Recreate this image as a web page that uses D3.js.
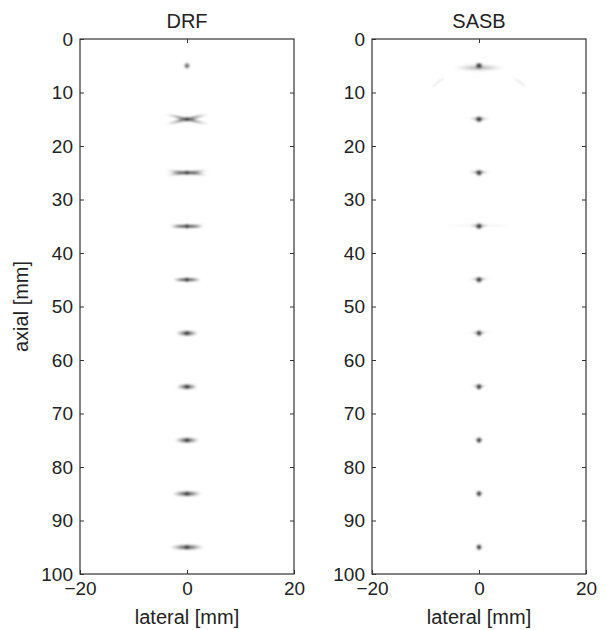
<!DOCTYPE html>
<html><head><meta charset="utf-8">
<script src="https://cdn.jsdelivr.net/npm/d3@7/dist/d3.min.js"></script>
<style>body{margin:0;background:#fff}svg{display:block}text{font-family:"Liberation Sans",Arial,sans-serif;fill:#222}</style>
</head><body><svg id="c" width="606" height="630"></svg>
<script>
// ---- data ----
const panels = ["DRF", "SASB"];
const depths = [5, 15, 25, 35, 45, 55, 65, 75, 85, 95];           // axial mm
const drfHalfWidth = [0.5, 4.3, 4.1, 3.4, 2.7, 2.2, 2.1, 2.4, 2.9, 3.3]; // lateral mm
const drfSpread = [0, 1.0, 0.45, 0.2, 0.1, 0, 0, 0, 0, 0];          // X-shape opening mm
const sasbCore = [0.75, 0.75, 0.7, 0.7, 0.65, 0.6, 0.6, 0.55, 0.55, 0.55];
const sasbLobe = [5.0, 2.0, 2.0, 2.0, 1.6, 1.5, 1.3, 1.0, 0.8, 0.7];
const sasbFarLobe = [0, 0, 0, 7.0, 3.0, 2.5, 2.3, 0, 0, 0];
const sasbArcLeft = [[-8.6, 8.9], [-7.8, 8.1], [-6.6, 7.4]];
const sasbArcRight = [[6.6, 7.4], [7.8, 8.1], [8.6, 8.9]];
const xTicks = [-20, 0, 20];
const yTicks = [0, 10, 20, 30, 40, 50, 60, 70, 80, 90, 100];
const xDomain = [-20, 20], yDomain = [0, 100];

const svg = d3.select("#c");
const defs = svg.append("defs");
function radial(id, stops) {
  const g = defs.append("radialGradient").attr("id", id);
  stops.forEach(s => g.append("stop").attr("offset", s[0]).attr("stop-color", s[1]).attr("stop-opacity", s[2]));
}
radial("core", [["0%", "#1a1a1a", 1], ["50%", "#333", 0.85], ["100%", "#777", 0]]);
radial("dcore", [["0%", "#333", 0.95], ["50%", "#555", 0.75], ["100%", "#888", 0]]);
radial("spot", [["0%", "#2a2a2a", 0.95], ["30%", "#444", 0.8], ["65%", "#777", 0.45], ["100%", "#aaa", 0]]);
radial("lobe", [["0%", "#333", 0.85], ["50%", "#555", 0.6], ["100%", "#999", 0]]);
radial("slobe", [["0%", "#555", 0.85], ["50%", "#777", 0.6], ["100%", "#aaa", 0]]);
radial("faint", [["0%", "#bbb", 0.05], ["40%", "#aaa", 0.25], ["100%", "#ccc", 0]]);
radial("wide", [["0%", "#666", 0.6], ["50%", "#999", 0.35], ["100%", "#ccc", 0]]);
defs.append("filter").attr("id", "blur").attr("x", "-50%").attr("y", "-200%").attr("width", "200%").attr("height", "500%")
  .append("feGaussianBlur").attr("stdDeviation", 0.8);

const y = d3.scaleLinear().domain(yDomain).range([39, 574]);
const ranges = [[80, 294], [372, 586]];

panels.forEach((name, pi) => {
  const x = d3.scaleLinear().domain(xDomain).range(ranges[pi]);
  const g = svg.append("g");
  const kx = x(1) - x(0), ky = y(1) - y(0);
  const marks = g.append("g").attr("filter", "url(#blur)");

  depths.forEach((d, i) => {
    const cx = x(0), cy = y(d);
    if (pi === 0) {
      const rx = drfHalfWidth[i] * kx;
      if (drfSpread[i] > 0) {
        const ang = Math.atan2(drfSpread[i] * ky, drfHalfWidth[i] * kx) * 180 / Math.PI;
        [ang, -ang].forEach(a => marks.append("ellipse").attr("cx", cx).attr("cy", cy)
          .attr("rx", rx).attr("ry", 1.8).attr("fill", "url(#lobe)")
          .attr("transform", `rotate(${a},${cx},${cy})`));
        marks.append("ellipse").attr("cx", cx).attr("cy", cy).attr("rx", rx * (drfSpread[i] > 0.5 ? 0.5 : 0.8)).attr("ry", 1.8).attr("fill", "url(#lobe)");
      } else if (i > 0) {
        marks.append("ellipse").attr("cx", cx).attr("cy", cy).attr("rx", rx).attr("ry", 3.2).attr("fill", "url(#spot)");
      }
      marks.append("ellipse").attr("cx", cx).attr("cy", cy).attr("rx", 3.2).attr("ry", i === 0 ? 3.4 : 2.6)
        .attr("fill", i === 0 ? "url(#dcore)" : "url(#core)");
    } else {
      if (sasbFarLobe[i] > 0)
        marks.append("ellipse").attr("cx", cx).attr("cy", cy - 0.8).attr("rx", sasbFarLobe[i] * kx).attr("ry", 1.0).attr("fill", "url(#faint)");
      if (i === 0) {
        marks.append("ellipse").attr("cx", cx).attr("cy", cy + 2).attr("rx", sasbLobe[i] * kx).attr("ry", 4).attr("fill", "url(#wide)");
      } else {
        marks.append("ellipse").attr("cx", cx).attr("cy", cy - 0.6).attr("rx", sasbLobe[i] * kx).attr("ry", 1.4).attr("fill", "url(#slobe)");
      }
      marks.append("ellipse").attr("cx", cx).attr("cy", cy).attr("rx", sasbCore[i] * kx).attr("ry", 3.4).attr("fill", "url(#core)");
    }
  });

  if (pi === 1) {
    const line = d3.line().x(p => x(p[0])).y(p => y(p[1])).curve(d3.curveBasis);
    [sasbArcLeft, sasbArcRight].forEach(a => marks.append("path").attr("d", line(a))
      .attr("fill", "none").attr("stroke", "#bbb").attr("stroke-opacity", 0.4).attr("stroke-width", 1.4));
  }

  // axes
  const style = sel => { sel.select(".domain").remove(); sel.selectAll("line").attr("stroke", "#333");
    sel.selectAll("text").attr("font-size", 19).attr("fill", "#222").attr("font-family", '"Liberation Sans",Arial,sans-serif'); };
  g.append("g").attr("transform", `translate(${ranges[pi][0]},0)`)
    .call(d3.axisLeft(y).tickValues(yTicks).tickSizeInner(-4).tickSizeOuter(0).tickPadding(7)).call(style);
  g.append("g").attr("transform", `translate(${ranges[pi][1]},0)`)
    .call(d3.axisRight(y).tickValues(yTicks.slice(1, -1)).tickSizeInner(-4).tickSizeOuter(0).tickFormat("")).call(style);
  g.append("g").attr("transform", `translate(0,${y(100)})`)
    .call(d3.axisBottom(x).tickValues(xTicks).tickSizeInner(-4).tickSizeOuter(0).tickPadding(8)
      .tickFormat(v => v < 0 ? "\u2212" + Math.abs(v) : String(v))).call(style);
  g.append("g").attr("transform", `translate(0,${y(0)})`)
    .call(d3.axisTop(x).tickValues([0]).tickSizeInner(-4).tickSizeOuter(0).tickFormat("")).call(style);
  g.append("rect").attr("x", ranges[pi][0]).attr("y", y(0)).attr("width", ranges[pi][1] - ranges[pi][0])
    .attr("height", y(100) - y(0)).attr("fill", "none").attr("stroke", "#333").attr("stroke-width", 1.2);

  const mid = (ranges[pi][0] + ranges[pi][1]) / 2;
  g.append("text").attr("x", mid).attr("y", 28).attr("text-anchor", "middle").attr("font-size", 20).text(name);
  g.append("text").attr("x", mid).attr("y", 624).attr("text-anchor", "middle").attr("font-size", 20).text("lateral [mm]");
});

svg.append("text").attr("transform", `translate(28,${(y(0) + y(100)) / 2}) rotate(-90)`)
  .attr("text-anchor", "middle").attr("font-size", 20).text("axial [mm]");
</script></body></html>
